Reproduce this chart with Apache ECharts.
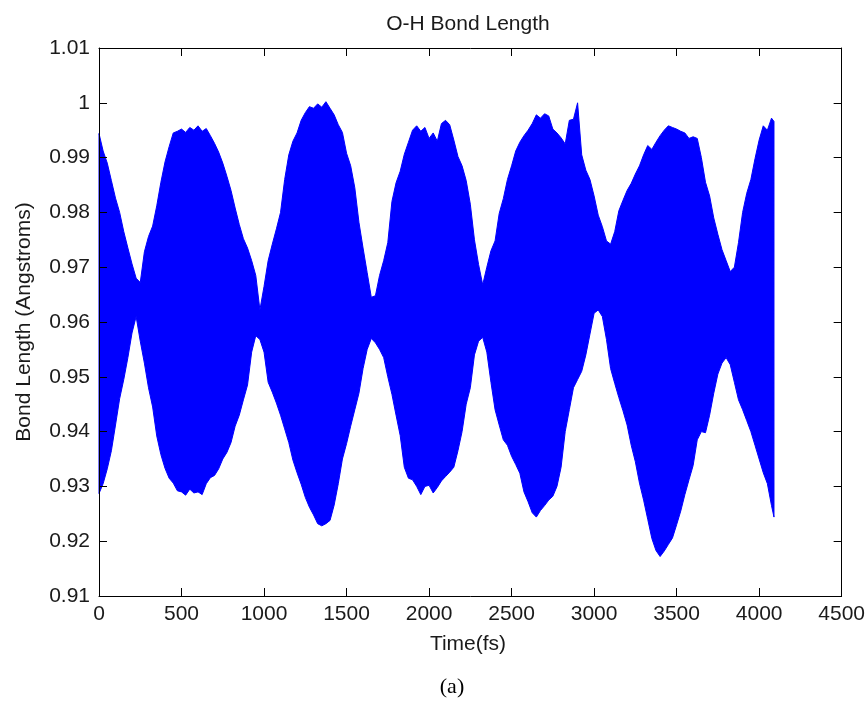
<!DOCTYPE html>
<html>
<head>
<meta charset="utf-8">
<script src="https://cdn.jsdelivr.net/npm/echarts@6/dist/echarts.min.js"></script>
<style>
html,body{margin:0;padding:0;background:#fff;}
#chart{width:868px;height:702px;}
</style>
</head>
<body>
<div id="chart"></div>
<script>
// Time samples (fs)
const times = [
0,25,50,75,100,125,150,175,200,225,
250,275,300,325,350,375,400,425,450,475,
500,525,550,575,600,625,650,675,700,725,
750,775,800,825,850,875,900,925,950,975,
1000,1025,1050,1075,1100,1125,1150,1175,1200,1225,
1250,1275,1300,1325,1350,1375,1400,1425,1450,1475,
1500,1525,1550,1575,1600,1625,1650,1675,1700,1725,
1750,1775,1800,1825,1850,1875,1900,1925,1950,1975,
2000,2025,2050,2075,2100,2125,2150,2175,2200,2225,
2250,2275,2300,2325,2350,2375,2400,2425,2450,2475,
2500,2525,2550,2575,2600,2625,2650,2675,2700,2725,
2750,2775,2800,2825,2850,2875,2900,2925,2950,2975,
3000,3025,3050,3075,3100,3125,3150,3175,3200,3225,
3250,3275,3300,3325,3350,3375,3400,3425,3450,3475,
3500,3525,3550,3575,3600,3625,3650,3675,3700,3725,
3750,3775,3800,3825,3850,3875,3900,3925,3950,3975,
4000,4025,4050,4075,4090
];
// Upper envelope of the O-H bond length oscillation (Angstroms)
const upperEnvelope = [
0.9944,0.9912,0.9890,0.9858,0.9826,0.9800,0.9765,0.9735,0.9706,0.9680,
0.9672,0.9728,0.9756,0.9775,0.9812,0.9855,0.9892,0.9920,0.9945,0.9948,
0.9952,0.9946,0.9955,0.9950,0.9958,0.9948,0.9953,0.9940,0.9926,0.9910,
0.9890,0.9866,0.9840,0.9808,0.9778,0.9752,0.9735,0.9712,0.9685,0.9622,
0.9665,0.9712,0.9742,0.9770,0.9800,0.9860,0.9905,0.9930,0.9945,0.9968,
0.9982,0.9993,0.9990,0.9998,0.9992,1.0002,0.9990,0.9978,0.9960,0.9946,
0.9908,0.9885,0.9845,0.9782,0.9735,0.9690,0.9645,0.9648,0.9685,0.9712,
0.9745,0.9820,0.9854,0.9875,0.9906,0.9928,0.9950,0.9958,0.9948,0.9955,
0.9935,0.9945,0.9930,0.9962,0.9968,0.9960,0.9932,0.9902,0.9885,0.9858,
0.9815,0.9750,0.9705,0.9668,0.9700,0.9730,0.9748,0.9798,0.9825,0.9860,
0.9885,0.9912,0.9928,0.9940,0.9950,0.9962,0.9978,0.9972,0.9980,0.9976,
0.9952,0.9945,0.9936,0.9925,0.9968,0.9970,1.0000,0.9905,0.9877,0.9860,
0.9830,0.9795,0.9774,0.9748,0.9742,0.9765,0.9803,0.9822,0.9840,0.9853,
0.9870,0.9885,0.9905,0.9922,0.9915,0.9928,0.9940,0.9950,0.9958,0.9955,
0.9952,0.9948,0.9945,0.9935,0.9938,0.9935,0.9900,0.9855,0.9830,0.9790,
0.9760,0.9732,0.9712,0.9692,0.9700,0.9745,0.9800,0.9835,0.9860,0.9898,
0.9932,0.9958,0.9950,0.9972,0.9966
];
// Lower envelope of the O-H bond length oscillation (Angstroms)
const lowerEnvelope = [
0.9287,0.9305,0.9332,0.9365,0.9412,0.9460,0.9495,0.9535,0.9580,0.9610,
0.9565,0.9525,0.9480,0.9445,0.9392,0.9358,0.9333,0.9315,0.9306,0.9292,
0.9290,0.9284,0.9295,0.9288,0.9290,0.9285,0.9305,0.9316,0.9320,0.9332,
0.9350,0.9362,0.9380,0.9410,0.9430,0.9458,0.9485,0.9545,0.9575,0.9568,
0.9545,0.9490,0.9472,0.9452,0.9430,0.9405,0.9380,0.9348,0.9325,0.9304,
0.9280,0.9262,0.9248,0.9232,0.9228,0.9232,0.9238,0.9266,0.9305,0.9350,
0.9378,0.9410,0.9440,0.9470,0.9515,0.9550,0.9570,0.9562,0.9550,0.9535,
0.9500,0.9468,0.9430,0.9393,0.9335,0.9315,0.9312,0.9300,0.9285,0.9300,
0.9302,0.9288,0.9298,0.9310,0.9318,0.9326,0.9335,0.9365,0.9400,0.9450,
0.9480,0.9540,0.9565,0.9572,0.9545,0.9490,0.9440,0.9412,0.9385,0.9375,
0.9355,0.9340,0.9324,0.9290,0.9272,0.9252,0.9244,0.9256,0.9265,0.9275,
0.9282,0.9300,0.9335,0.9400,0.9440,0.9480,0.9495,0.9510,0.9540,0.9578,
0.9616,0.9622,0.9610,0.9568,0.9515,0.9488,0.9462,0.9438,0.9412,0.9375,
0.9345,0.9306,0.9275,0.9240,0.9205,0.9183,0.9172,0.9182,0.9194,0.9206,
0.9230,0.9255,0.9285,0.9312,0.9338,0.9385,0.9400,0.9398,0.9430,0.9470,
0.9505,0.9525,0.9535,0.9522,0.9490,0.9458,0.9440,0.9420,0.9400,0.9375,
0.9350,0.9325,0.9305,0.9265,0.9244
];
// Axis settings
const xMin = 0, xMax = 4500, xStep = 500;
const yMin = 0.91, yMax = 1.01, yStep = 0.01;

const titleText = 'O-H Bond Length';
const xTitle = 'Time(fs)';
const yTitle = 'Bond Length (Angstroms)';
const caption = '(a)';

const FONT = '"Liberation Sans", Arial, Helvetica, sans-serif';
const TXT = '#1a1a1a';
const BLUE = '#0000ff';

const chart = echarts.init(document.getElementById('chart'), null, {renderer: 'canvas'});

function yFmt(v) { return String(+(+v).toFixed(2)); }
function xFmt(v) { return String(v); }

const axisLineStyle = {show: true, onZero: false, lineStyle: {color: '#000', width: 1}};
const tickStyle = {show: true, inside: true, length: 8, lineStyle: {color: '#000', width: 1}};

// Band between lower and upper envelope, drawn through the axis scales
function renderBand(params, api) {
  const pts = [];
  for (let i = 0; i < times.length; i++) pts.push(api.coord([times[i], upperEnvelope[i]]));
  for (let i = times.length - 1; i >= 0; i--) pts.push(api.coord([times[i], lowerEnvelope[i]]));
  return {
    type: 'polygon',
    shape: {points: pts},
    style: {fill: BLUE, stroke: BLUE, lineWidth: 1}
  };
}

chart.setOption({
  animation: false,
  backgroundColor: '#fff',
  grid: {left: 99, right: 25, top: 48, bottom: 106, containLabel: false},
  xAxis: [
    {
      type: 'value', min: xMin, max: xMax, interval: xStep, position: 'bottom', z: 5,
      axisLine: axisLineStyle, axisTick: tickStyle, splitLine: {show: false},
      axisLabel: {color: TXT, fontFamily: FONT, fontSize: 21, margin: 8, formatter: xFmt}
    },
    {
      type: 'value', min: xMin, max: xMax, interval: xStep, position: 'top', z: 5,
      axisLine: axisLineStyle, axisTick: tickStyle, splitLine: {show: false},
      axisLabel: {show: false}
    }
  ],
  yAxis: [
    {
      type: 'value', min: yMin, max: yMax, interval: yStep, position: 'left', z: 5,
      axisLine: axisLineStyle, axisTick: tickStyle, splitLine: {show: false},
      axisLabel: {color: TXT, fontFamily: FONT, fontSize: 21, margin: 9, formatter: yFmt}
    },
    {
      type: 'value', min: yMin, max: yMax, interval: yStep, position: 'right', z: 5,
      axisLine: axisLineStyle, axisTick: tickStyle, splitLine: {show: false},
      axisLabel: {show: false}
    }
  ],
  series: [
    {
      type: 'custom', coordinateSystem: 'cartesian2d', xAxisIndex: 0, yAxisIndex: 0,
      data: [[times[0], lowerEnvelope[0]]],
      renderItem: renderBand, silent: true, z: 2
    }
  ],
  graphic: [
    {type: 'text', x: 468, y: 24, style: {text: titleText, fill: TXT, font: '21px ' + FONT, textAlign: 'center', textVerticalAlign: 'middle'}},
    {type: 'text', x: 468, y: 644, style: {text: xTitle, fill: TXT, font: '21px ' + FONT, textAlign: 'center', textVerticalAlign: 'middle'}},
    {type: 'text', x: 24, y: 322, rotation: Math.PI / 2, style: {text: yTitle, fill: TXT, font: '21px ' + FONT, textAlign: 'center', textVerticalAlign: 'middle'}},
    {type: 'text', x: 452, y: 687, style: {text: caption, fill: '#000', font: '22px "Liberation Serif", "Times New Roman", serif', textAlign: 'center', textVerticalAlign: 'middle'}}
  ]
});
</script>
</body>
</html>
